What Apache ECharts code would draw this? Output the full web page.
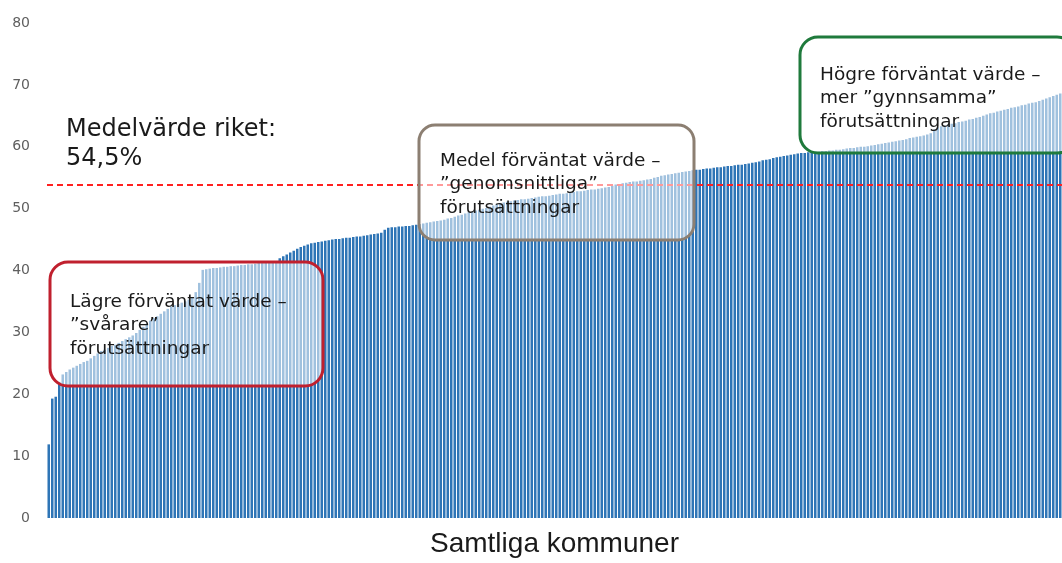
<!DOCTYPE html>
<html>
<head>
<meta charset="utf-8">
<script src="https://cdn.jsdelivr.net/npm/echarts@6/dist/echarts.min.js"></script>
<style>
  html, body { margin: 0; padding: 0; background: #fff; }
  #chart { width: 1062px; height: 563px; }
</style>
</head>
<body>
<div id="chart"></div>
<script>
// förväntat värde per kommun, sorterat stigande
var values = [
  11.9, 19.3, 19.6, 22.0, 23.2, 23.6, 24.0, 24.3, 24.6, 24.9, 25.2, 25.4, 25.8, 26.2, 26.6, 27.0, 27.2, 27.5, 27.8, 28.0,
  28.3, 28.6, 28.9, 29.2, 29.5, 29.9, 30.4, 30.9, 31.4, 31.9, 32.3, 32.6, 33.0, 33.4, 33.8, 34.2, 34.4, 34.6, 34.8, 35.0, 35.3, 35.7, 36.5, 38.0,
  40.1, 40.2, 40.3, 40.4, 40.4, 40.5, 40.6, 40.6, 40.7, 40.7, 40.8, 40.9, 40.9, 41.0, 41.0, 41.1, 41.2, 41.2, 41.3, 41.3, 41.4, 41.5,
  42.0, 42.3, 42.6, 42.9, 43.2, 43.5, 43.8, 44.0, 44.2, 44.4, 44.5, 44.6, 44.7, 44.8, 44.9, 45.0,
  45.1, 45.1, 45.2, 45.3, 45.3, 45.4, 45.5, 45.5, 45.6, 45.7, 45.8, 45.9, 46.0, 46.1,
  46.6, 46.9, 47.0, 47.0, 47.1, 47.1, 47.2, 47.2, 47.3, 47.4, 47.5, 47.6, 47.7, 47.8, 47.9, 48.0, 48.1, 48.2, 48.4, 48.5,
  48.7, 48.9, 49.0, 49.2, 49.4, 49.5, 49.7, 49.8, 50.0, 50.1, 50.3, 50.5, 50.7, 50.9,
  51.0, 51.1, 51.2, 51.3, 51.4, 51.5, 51.5, 51.6, 51.7, 51.8, 51.9, 52.0, 52.0, 52.1, 52.2, 52.3, 52.4, 52.4, 52.5, 52.6, 52.7, 52.8, 52.8, 52.9, 53.0, 53.1, 53.1, 53.2, 53.3,
  53.4, 53.5, 53.7, 53.9, 54.0, 54.1, 54.2, 54.3, 54.4, 54.4, 54.5, 54.6, 54.7, 54.8, 55.0, 55.1, 55.3, 55.4, 55.5, 55.6, 55.7, 55.8, 55.9, 56.0, 56.1, 56.2,
  56.3, 56.3, 56.4, 56.5, 56.5, 56.6, 56.7, 56.7, 56.8, 56.9, 56.9, 57.0, 57.1, 57.1, 57.2, 57.3, 57.4,
  57.5, 57.6, 57.8, 57.9, 58.0, 58.2, 58.3, 58.4, 58.5, 58.6, 58.7, 58.8, 58.9, 59.0, 59.0, 59.1, 59.1, 59.2, 59.2, 59.3, 59.3, 59.4, 59.4, 59.5, 59.5, 59.6,
  59.7, 59.8, 59.8, 59.9, 60.0, 60.0, 60.1, 60.2, 60.3, 60.4, 60.5, 60.6, 60.7, 60.8, 60.9, 61.0, 61.1, 61.2, 61.4, 61.5, 61.6, 61.7, 61.8, 62.0, 62.2,
  62.8, 63.1, 63.3, 63.4, 63.6, 63.7, 63.8, 64.0, 64.1, 64.2, 64.4, 64.5, 64.7, 64.8, 65.0, 65.2, 65.4, 65.5,
  65.7, 65.8, 66.0, 66.1, 66.3, 66.4, 66.5, 66.7, 66.8, 67.0, 67.1, 67.2, 67.4, 67.6, 67.8, 68.0, 68.2, 68.4, 68.6
]
var categories = values.map(function (v, i) { return 'Kommun ' + (i + 1) })
var meanLine = 53.9   // där den streckade linjen ligger i bilden
var yMin = 0
var yMax = 80
var yStep = 10

var boxes = [
  { x: 50, y: 262, w: 273, h: 124, r: 18, color: '#c0202e',
    text: 'Lägre förväntat värde –\n”svårare”\nförutsättningar', tx: 70, ty: 290 },
  { x: 419, y: 125, w: 275, h: 115, r: 16, color: '#8c7f72',
    text: 'Medel förväntat värde –\n”genomsnittliga”\nförutsättningar', tx: 440, ty: 149 },
  { x: 800, y: 37, w: 275, h: 116, r: 18, color: '#1f7a3c',
    text: 'Högre förväntat värde –\nmer ”gynnsamma”\nförutsättningar', tx: 820, ty: 63 }
]

var graphics = []
boxes.forEach(function (b) {
  graphics.push({
    type: 'rect',
    z: 100,
    shape: { x: b.x, y: b.y, width: b.w, height: b.h, r: b.r },
    style: { fill: 'rgba(255,255,255,0.55)', stroke: b.color, lineWidth: 3 }
  })
  graphics.push({
    type: 'text',
    z: 101,
    x: b.tx,
    y: b.ty,
    style: {
      text: b.text,
      font: '18.5px "DejaVu Sans"',
      fill: '#1a1a1a',
      lineHeight: 23.5,
      verticalAlign: 'top'
    }
  })
})
graphics.push({
  type: 'text',
  z: 101,
  x: 66,
  y: 115,
  style: {
    text: 'Medelvärde riket:\n54,5%',
    font: '24px "DejaVu Sans"',
    fill: '#1a1a1a',
    lineHeight: 29,
    verticalAlign: 'top'
  }
})

var chart = echarts.init(document.getElementById('chart'))
var option = {
  animation: false,
  grid: {
    top: 23,
    left: 47,
    right: 0,
    bottom: 41
  },
  xAxis: {
    type: 'category',
    data: categories,
    name: 'Samtliga kommuner',
    nameLocation: 'middle',
    nameGap: 12,
    nameTextStyle: {
      fontFamily: 'Liberation Sans',
      fontSize: 28,
      color: '#1a1a1a',
      verticalAlign: 'top'
    },
    axisLine: { show: false },
    axisTick: { show: false },
    axisLabel: { show: false }
  },
  yAxis: {
    type: 'value',
    min: yMin,
    max: yMax,
    interval: yStep,
    axisLine: { show: false },
    axisTick: { show: false },
    splitLine: { show: false },
    axisLabel: {
      margin: 17,
      fontFamily: 'DejaVu Sans',
      fontSize: 14,
      color: '#5f5f5f'
    }
  },
  series: [
    {
      type: 'bar',
      data: values,
      barCategoryGap: '28%',
      itemStyle: { color: '#2e75b6' },
      markLine: {
        silent: true,
        symbol: 'none',
        label: { show: false },
        lineStyle: { color: '#ff2020', width: 1.8, type: [6, 4] },
        data: [{ yAxis: meanLine }]
      }
    }
  ],
  graphic: graphics
}
chart.setOption(option)
</script>
</body>
</html>
